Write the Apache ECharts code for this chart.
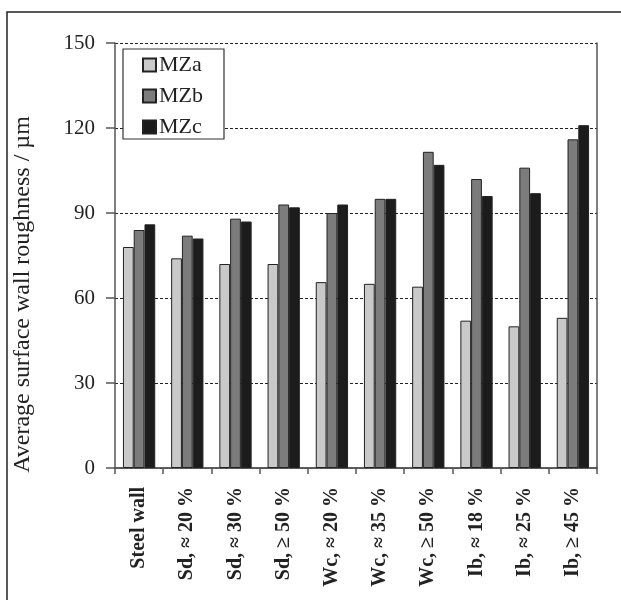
<!DOCTYPE html>
<html>
<head>
<meta charset="utf-8">
<script src="https://cdn.jsdelivr.net/npm/echarts@6/dist/echarts.min.js"></script>
<style>
html,body{margin:0;padding:0;background:#fff;}
#chart{width:621px;height:600px;}
</style>
</head>
<body>
<div id="chart"></div>
<script>
const categories = ['Steel wall','Sd, \u2248 20 %','Sd, \u2248 30 %','Sd, \u2265 50 %','Wc, \u2248 20 %','Wc, \u2248 35 %','Wc, \u2265 50 %','Ib, \u2248 18 %','Ib, \u2248 25 %','Ib, \u2265 45 %'];
const seriesNames = ['MZa','MZb','MZc'];
const MZa = [78, 74, 72, 72, 65.6, 65, 64, 52, 50, 53];
const MZb = [84, 82, 88, 93, 90, 95, 111.6, 102, 106, 116];
const MZc = [86, 81, 87, 92, 93, 95, 107, 96, 97, 121];
const yTicks = [0, 30, 60, 90, 120, 150];
const yName = 'Average surface wall roughness / \u00b5m';

const colors = ['#c9c9c9', '#7c7c7c', '#1c1c1c'];
const values = [MZa, MZb, MZc];
const serif = '"Liberation Serif", "Times New Roman", serif';

const chart = echarts.init(document.getElementById('chart'), null, {renderer: 'canvas'});
chart.setOption({
  animation: false,
  backgroundColor: '#fff',
  graphic: [{
    type: 'rect', silent: true, z: -10,
    shape: {x: 7, y: 12, width: 700, height: 700},
    style: {fill: 'none', stroke: '#222', lineWidth: 1.5}
  }],
  grid: {left: 115, right: 24, top: 43, bottom: 132, containLabel: false},
  legend: {
    data: seriesNames,
    orient: 'vertical',
    left: 123, top: 49,
    padding: [5, 21, 1, 19],
    itemWidth: 13, itemHeight: 13, itemGap: 9,
    borderColor: '#333', borderWidth: 1.2,
    icon: 'rect',
    textStyle: {fontFamily: serif, fontSize: 22, color: '#222', padding: [0, 0, 0, -2], lineHeight: 22},
    backgroundColor: '#fff'
  },
  xAxis: [{
    type: 'category',
    data: categories,
    axisLine: {lineStyle: {color: '#555', width: 1.5}},
    axisTick: {show: true, length: 6, lineStyle: {color: '#555', width: 1.5}},
    axisLabel: {rotate: 90, margin: 19, fontFamily: serif, fontSize: 20, fontWeight: 'bold', color: '#222', interval: 0}
  }, {
    type: 'category', position: 'top', data: categories,
    axisLine: {show: true, lineStyle: {color: '#555', width: 1.5}},
    axisTick: {show: false}, axisLabel: {show: false}
  }],
  yAxis: [{
    type: 'value', min: yTicks[0], max: yTicks[yTicks.length - 1], interval: 30,
    name: yName, nameLocation: 'middle', nameGap: 80,
    nameTextStyle: {fontFamily: serif, fontSize: 24, color: '#222', padding: [0, 78, 0, 0]},
    axisLine: {show: true, lineStyle: {color: '#555', width: 1.5}},
    axisTick: {show: true, length: 9, lineStyle: {color: '#555', width: 1.5}},
    axisLabel: {margin: 20, fontFamily: serif, fontSize: 21, color: '#222'},
    splitLine: {show: true, lineStyle: {color: '#222', width: 1, type: [3, 2]}}
  }, {
    type: 'value', position: 'right', min: yTicks[0], max: yTicks[yTicks.length - 1], interval: 30,
    axisLine: {show: true, lineStyle: {color: '#555', width: 1.5}},
    axisTick: {show: false}, axisLabel: {show: false}, splitLine: {show: false}
  }],
  series: seriesNames.map((n, i) => ({
    name: n, type: 'bar', data: values[i],
    barGap: 0, barCategoryGap: '33%',
    itemStyle: {color: colors[i], borderColor: '#222', borderWidth: 1},
    emphasis: {disabled: true}
  }))
});
</script>
</body>
</html>
